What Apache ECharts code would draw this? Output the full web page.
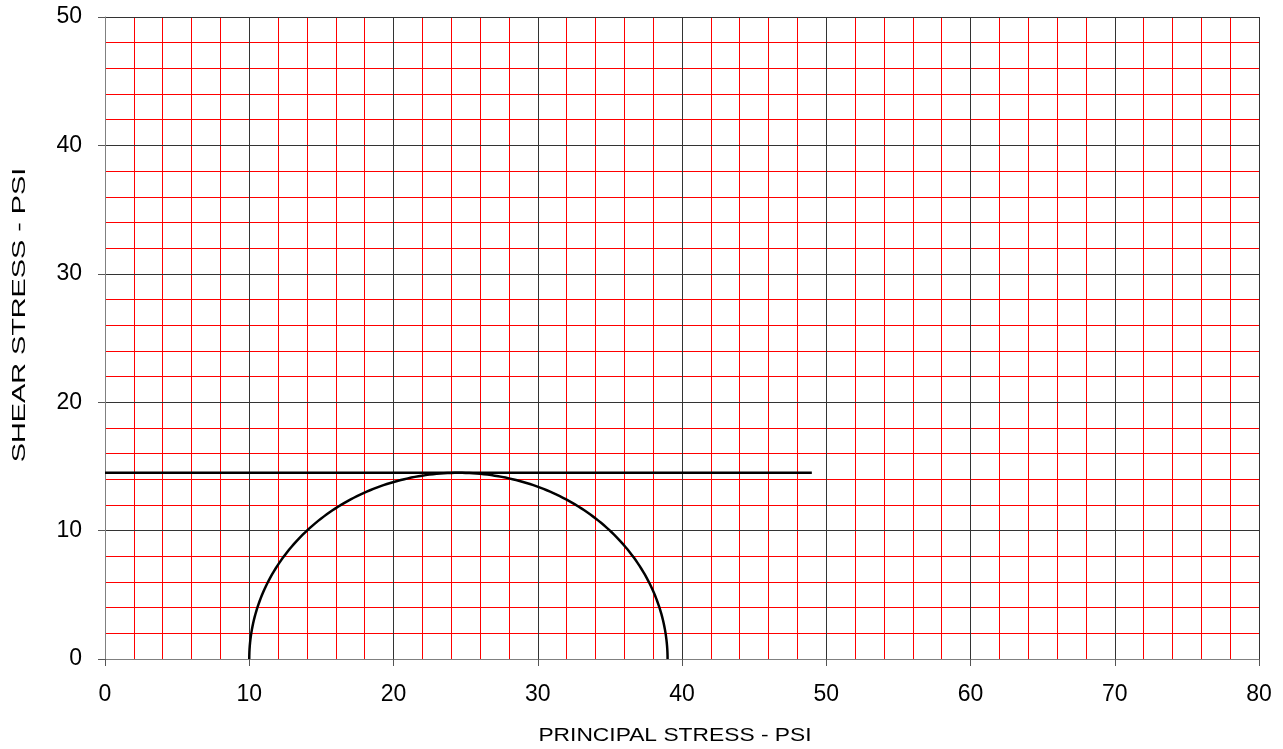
<!DOCTYPE html>
<html>
<head>
<meta charset="utf-8">
<script src="https://cdn.jsdelivr.net/npm/echarts@6/dist/echarts.min.js"></script>
<style>html,body{margin:0;padding:0;background:#fff}#c{width:1283px;height:749px}</style>
</head>
<body>
<div id="c"></div>
<script>
// Mohr circle principal stresses (psi)
var principalStresses = [10, 39];
// Failure envelope line
var envelopeX = [0, 49];
var envelopeY = [14.5, 14.5];
var xTicks = [0, 10, 20, 30, 40, 50, 60, 70, 80];
var yTicks = [0, 10, 20, 30, 40, 50];
var xTitle = 'PRINCIPAL STRESS - PSI';
var yTitle = 'SHEAR STRESS - PSI';

var FONT = '"Liberation Sans", Arial, sans-serif';
var chart = echarts.init(document.getElementById('c'));
var center = (principalStresses[0] + principalStresses[1]) / 2;
var radius = (principalStresses[1] - principalStresses[0]) / 2;

function minorAxis(min, max) {
  return {
    type: 'value', min: min, max: max, interval: 2,
    axisLine: {show: false}, axisTick: {show: false}, axisLabel: {show: false},
    splitLine: {show: true, lineStyle: {color: '#ff0000', width: 1}},
    z: 0
  };
}
function majorAxis(min, max, margin) {
  return {
    type: 'value', min: min, max: max, interval: 10,
    axisLine: {show: true, onZero: false, lineStyle: {color: '#808080', width: 1}},
    axisTick: {show: true, length: 7, lineStyle: {color: '#555'}},
    axisLabel: {color: '#000', fontSize: 23, fontFamily: FONT, margin: margin},
    splitLine: {show: true, lineStyle: {color: '#333', width: 1}},
    z: 1
  };
}

var xMinor = minorAxis(xTicks[0], xTicks[xTicks.length - 1]);
xMinor.position = 'bottom';
var xMajor = majorAxis(xTicks[0], xTicks[xTicks.length - 1], 24);
xMajor.position = 'bottom';
var yMinor = minorAxis(yTicks[0], yTicks[yTicks.length - 1]);
yMinor.position = 'left';
var yMajor = majorAxis(yTicks[0], yTicks[yTicks.length - 1], 23);
yMajor.position = 'left';

chart.setOption({
  animation: false,
  grid: {left: 105, right: 24, top: 17, bottom: 90, outerBoundsMode: 'none', containLabel: false},
  xAxis: [xMinor, xMajor],
  yAxis: [yMinor, yMajor],
  graphic: [
    {
      type: 'text', x: 675, y: 736, scaleX: 1.2, scaleY: 1,
      style: {text: xTitle, font: '19px ' + FONT, fill: '#000', textAlign: 'center', textVerticalAlign: 'middle'}
    },
    {
      type: 'text', x: 20, y: 315, rotation: Math.PI / 2, scaleX: 1.6, scaleY: 1,
      style: {text: yTitle, font: '18px ' + FONT, fill: '#000', textAlign: 'center', textVerticalAlign: 'middle'}
    }
  ],
  series: [
    {
      type: 'line', xAxisIndex: 1, yAxisIndex: 1,
      data: [[envelopeX[0], envelopeY[0]], [envelopeX[1], envelopeY[1]]],
      symbol: 'none',
      lineStyle: {color: '#000', width: 2.5},
      z: 5
    },
    {
      type: 'custom', xAxisIndex: 1, yAxisIndex: 1,
      data: [[center, radius]],
      renderItem: function (params, api) {
        var c = api.value(0), r = api.value(1);
        var pts = [];
        for (var i = 0; i <= 180; i++) {
          var a = Math.PI * i / 180;
          pts.push(api.coord([c - r * Math.cos(a), r * Math.sin(a)]));
        }
        return {type: 'polyline', shape: {points: pts}, style: {stroke: '#000', lineWidth: 2.5, fill: null}};
      },
      z: 5
    }
  ]
});
</script>
</body>
</html>
